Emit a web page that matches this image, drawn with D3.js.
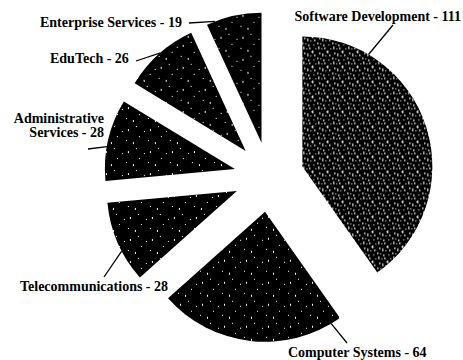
<!DOCTYPE html>
<html><head><meta charset="utf-8">
<script src="https://cdn.jsdelivr.net/npm/d3@7"></script>
<style>html,body{margin:0;padding:0;background:#fff;}svg{display:block;}</style>
</head><body>
<svg id="chart" width="463" height="360"></svg>
<script>
const categories = ["Software Development","Computer Systems","Telecommunications","Administrative Services","EduTech","Enterprise Services"];
const values = [111, 64, 28, 28, 26, 19];
const labelLines = [["Software Development - 111"],["Computer Systems - 64"],["Telecommunications - 28"],["Administrative","Services - 28"],["EduTech - 26"],["Enterprise Services - 19"]];

// layout (not data)
const W = 463, H = 360, cx = 269, cy = 177, R = 130, explode = 35;
const layout = [
  {lead: 30.6, tx: 461, ty: 21, anchor: "end", lx: 393, ly: 25},
  {lead: 149.4, tx: 288, ty: 357, anchor: "start", lx: 347, ly: 343},
  {lead: 242.4, tx: 20, ty: 291, anchor: "start", lx: 104, ly: 277},
  {lead: 280, tx: 104, ty: 123, anchor: "end", lx: 88, ly: 149},
  {lead: 319, tx: 50, ty: 63, anchor: "start", lx: 136, ly: 61},
  {lead: 339, tx: 40, ty: 27, anchor: "start", lx: 189, ly: 23}
];

const svg = d3.select("#chart");
const defs = svg.append("defs");
function speckPattern(id, specks, size){
  const p = defs.append("pattern").attr("id", id).attr("patternUnits","userSpaceOnUse")
    .attr("width", size).attr("height", size);
  p.append("rect").attr("width", size).attr("height", size).attr("fill", "#000");
  specks.forEach(s => p.append("rect").attr("x", s[0]).attr("y", s[1]).attr("width", s[2]).attr("height", s[3]).attr("fill", "#fff"));
}
speckPattern("dense", [[1,0,1,3],[4,2,1,1],[7,1,1,2],[10,4,1,3],[2,6,1,2],[5,7,1,3],[8,9,1,1],[12,8,1,2],[0,11,1,2],[3,12,1,1],[6,13,1,2],[11,13,1,1],[13,2,1,1],[9,5,1,1]], 15);
speckPattern("sparse", [[3,4,1,2],[14,11,1,1],[8,17,1,2],[19,6,1,1],[1,15,1,1],[11,1,1,1]], 22);

const pie = d3.pie().sort(null).value(d => d)(values);
const arc = d3.arc().innerRadius(0).outerRadius(R);

const g = svg.append("g").attr("transform", `translate(${cx},${cy})`);
const slices = g.selectAll("g.slice").data(pie).enter().append("g")
  .attr("transform", d => {
    const m = (d.startAngle + d.endAngle) / 2;
    return `translate(${explode*Math.sin(m)},${-explode*Math.cos(m)})`;
  });
slices.append("path").attr("d", arc)
  .attr("fill", (d,i) => i === 0 ? "url(#dense)" : "url(#sparse)");

// leaders
pie.forEach((d, i) => {
  const m = (d.startAngle + d.endAngle) / 2;
  const ox = cx + explode*Math.sin(m), oy = cy - explode*Math.cos(m);
  const a = layout[i].lead * Math.PI / 180;
  const x1 = ox + R*Math.sin(a), y1 = oy - R*Math.cos(a);
  svg.append("line").attr("x1", x1).attr("y1", y1).attr("x2", layout[i].lx).attr("y2", layout[i].ly)
    .attr("stroke", "#000").attr("stroke-width", 1.3);
});

// labels
labelLines.forEach((lines, i) => {
  const L = layout[i];
  const t = svg.append("text").attr("x", L.tx).attr("y", L.ty).attr("text-anchor", L.anchor)
    .attr("font-family", "'Liberation Serif', serif").attr("font-weight", "bold").attr("font-size", 14).attr("fill", "#000");
  lines.forEach((ln, j) => t.append("tspan").attr("x", L.tx).attr("dy", j === 0 ? 0 : 14).text(ln));
});
</script>
</body></html>
